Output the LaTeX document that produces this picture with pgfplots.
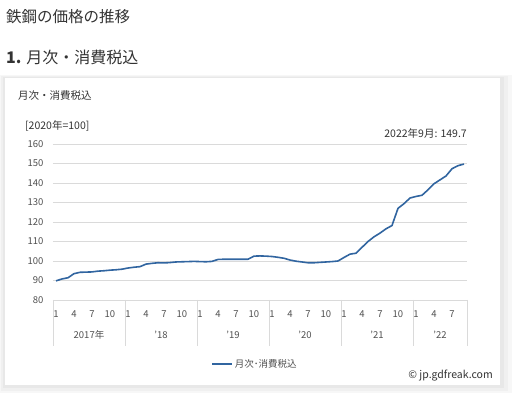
\documentclass[border=0pt]{standalone}
\usepackage{fontspec}
\setmainfont{Noto Sans CJK JP}
\usepackage{pgfplots}
\usepackage{pgfplotstable}
\usetikzlibrary{backgrounds}
\pgfplotsset{compat=1.18}
\definecolor{line}{RGB}{49,101,160}
\definecolor{txt}{RGB}{51,51,51}
\definecolor{tickc}{RGB}{80,80,80}
\definecolor{gridc}{RGB}{218,218,218}
\pgfplotstableread{
idx val
0 89.8
1 90.8
2 91.4
3 93.5
4 94.2
5 94.3
6 94.4
7 94.8
8 95.0
9 95.3
10 95.5
11 95.8
12 96.4
13 96.8
14 97.1
15 98.4
16 98.8
17 99.1
18 99.0
19 99.2
20 99.5
21 99.6
22 99.7
23 99.8
24 99.7
25 99.6
26 99.8
27 100.8
28 100.9
29 100.9
30 100.9
31 100.9
32 100.9
33 102.5
34 102.6
35 102.5
36 102.3
37 101.9
38 101.4
39 100.5
40 99.9
41 99.5
42 99.1
43 99.1
44 99.3
45 99.5
46 99.7
47 100.0
48 101.8
49 103.5
50 104.0
51 107.0
52 110.0
53 112.4
54 114.3
55 116.5
56 118.2
57 127.0
58 129.4
59 132.3
60 133.1
61 133.7
62 136.5
63 139.6
64 141.6
65 143.6
66 147.3
67 148.9
68 149.7
}\datatable
\begin{document}
\begin{tikzpicture}[x=1pt,y=1pt]
\begin{axis}[
  name=ax, scale only axis,
  width=414pt, height=156pt,
  xmin=-0.5, xmax=68.5, ymin=80, ymax=160,
  ytick={80,90,...,160},
  xtick={0,3,...,66},
  xticklabels={1,4,7,10,1,4,7,10,1,4,7,10,1,4,7,10,1,4,7,10,1,4,7},
  axis line style={draw=none},
  major tick length=0pt,
  ymajorgrids, grid style={draw=gridc, line width=0.8pt},
  tick label style={font=\fontsize{9.5}{11}\selectfont, text=tickc},
  yticklabel style={anchor=east, xshift=-6pt},
  xticklabel style={anchor=center, yshift=-14pt},
  /pgf/number format/assume math mode=true,
  clip=false,
  legend style={at={(0.488,-0.41)}, anchor=center, draw=none, fill=none,
    font=\fontsize{9.5}{11}\selectfont, text=tickc},
  legend image code/.code={\draw[#1] (0pt,0pt) -- (20pt,0pt);},
]
\addplot[line, line width=1.6pt, no markers, line join=round] table[x=idx, y=val] {\datatable};
\addlegendentry{月次･消費税込}
\pgfplotsinvokeforeach{-0.5,11.5,23.5,35.5,47.5,59.5,68.5}{
  \draw[gridc, line width=0.8pt] (axis cs:#1,80) -- ([yshift=-46pt]axis cs:#1,80);
}
\node[font=\fontsize{9.5}{11}\selectfont, text=tickc] at ([yshift=-35pt]axis cs:5.5,80) {2017年};
\node[font=\fontsize{9.5}{11}\selectfont, text=tickc] at ([yshift=-35pt]axis cs:17.5,80) {'18};
\node[font=\fontsize{9.5}{11}\selectfont, text=tickc] at ([yshift=-35pt]axis cs:29.5,80) {'19};
\node[font=\fontsize{9.5}{11}\selectfont, text=tickc] at ([yshift=-35pt]axis cs:41.5,80) {'20};
\node[font=\fontsize{9.5}{11}\selectfont, text=tickc] at ([yshift=-35pt]axis cs:53.5,80) {'21};
\node[font=\fontsize{9.5}{11}\selectfont, text=tickc] at ([yshift=-35pt]axis cs:64,80) {'22};
\coordinate (A) at (axis cs:-0.5,80);
\end{axis}
\begin{scope}[on background layer, shift={(A)}, shift={(-53,-93)}]
\path[use as bounding box, fill=white] (0,0) rectangle (512,393);
\fill[black!3] (0,0) rectangle (512,318);
\fill[black!6] (1,2) rectangle (508,317);
\fill[black!9] (3,5) rectangle (504,316);
\fill[white] (5,8) rectangle (500,315);
\node[anchor=west, inner sep=0, text=txt, font=\fontsize{15.5}{18}\selectfont] at (6,376) {鉄鋼の価格の推移};
\node[anchor=west, inner sep=0, text=txt, font=\fontsize{16}{19}\selectfont] at (6,336) {\textbf{1.} 月次・消費税込};
\node[anchor=west, inner sep=0, text=txt, font=\fontsize{10.5}{12}\selectfont] at (18,297) {月次・消費税込};
\node[anchor=west, inner sep=0, text=txt, font=\fontsize{10.5}{12}\selectfont] at (25,267) {[2020年=100]};
\node[anchor=east, inner sep=0, text=txt, font=\fontsize{10.5}{12}\selectfont] at (467,260) {2022年9月: 149.7};
\node[anchor=east, inner sep=0, text=txt, font=\fontsize{10.5}{12}\selectfont] at (493,17) {© jp.gdfreak.com};
\end{scope}
\end{tikzpicture}
\end{document}
